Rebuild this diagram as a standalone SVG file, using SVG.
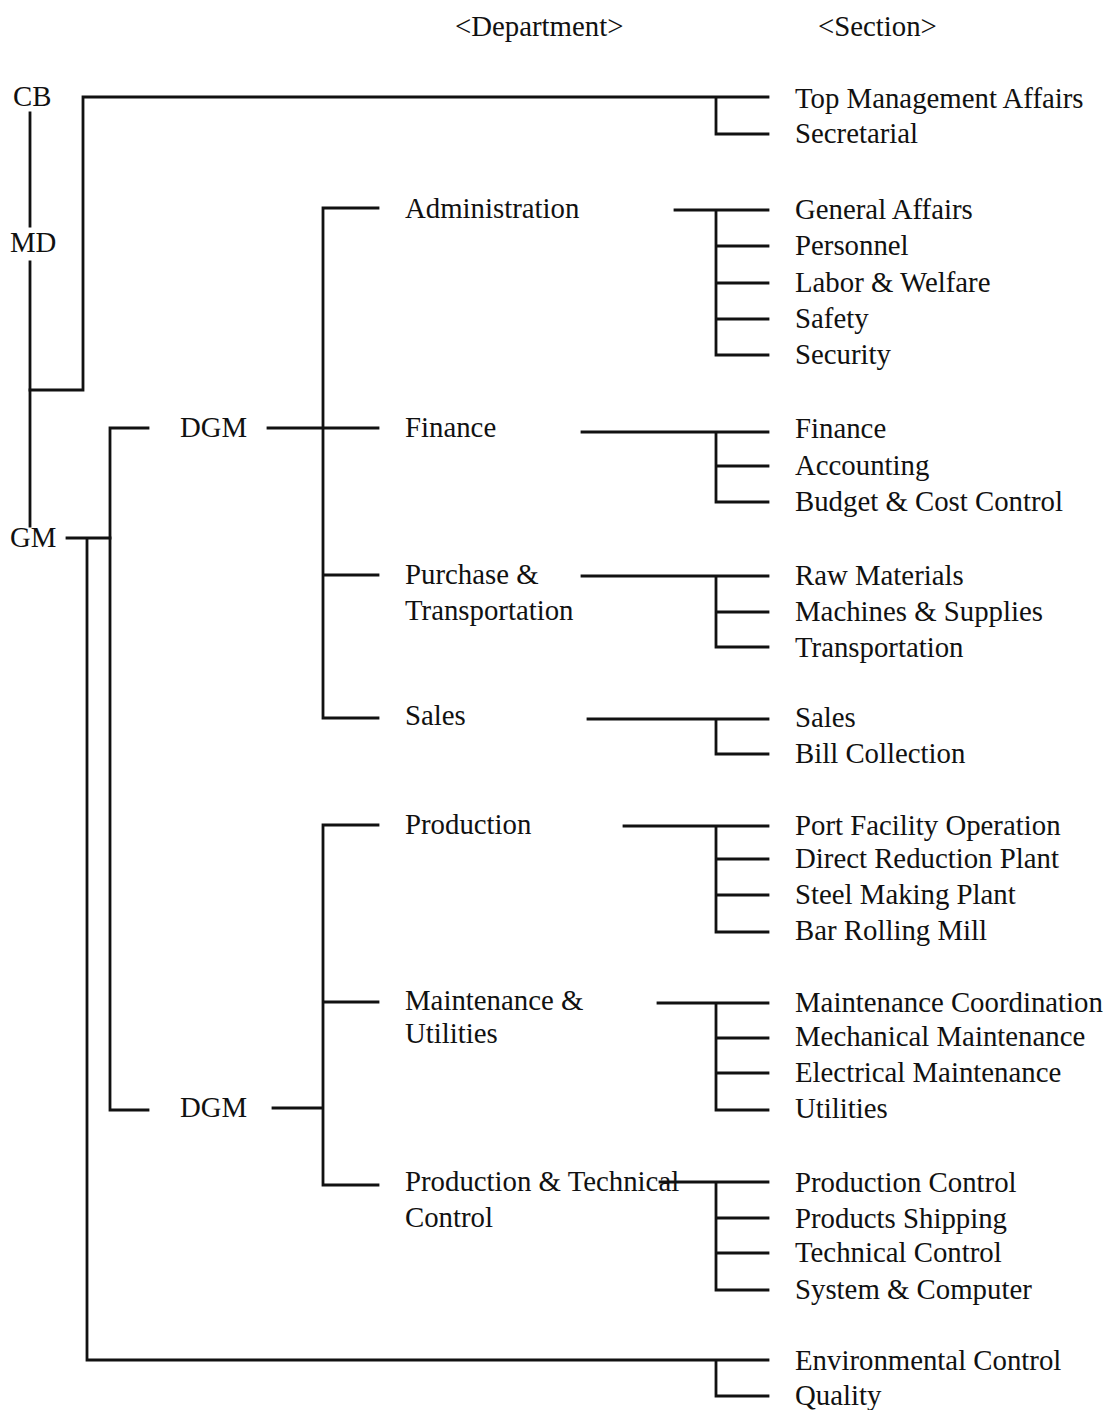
<svg xmlns="http://www.w3.org/2000/svg" width="1115" height="1410" viewBox="0 0 1115 1410">
<style>
.t{font-family:"Liberation Serif","Times New Roman",serif;font-size:28.8px;fill:#111;}
.ln{fill:none;stroke:#111;stroke-width:2.8;stroke-linecap:square;}
</style>
<rect width="1115" height="1410" fill="#fff"/>
<g id="headers">
<text class="t" x="455" y="36">&lt;Department&gt;</text>
<text class="t" x="818" y="36">&lt;Section&gt;</text>
</g>
<g id="connectors">
<path class="ln" d="M30,113 V226 M30,262 V526"/>
<path class="ln" d="M30,390 H83 V97 H768 M716,97 V134 H768"/>
<path class="ln" d="M67,538 H110 M87,538 V1360 H768 M716,1360 V1396 H768"/>
<path class="ln" d="M148,428 H110 V1110 H148"/>
<path class="ln" d="M268,428 H378 M323,208 V718 M323,208 H378 M323,575 H378 M323,718 H378"/>
<path class="ln" d="M273,1108 H323 M323,825 V1185 M323,825 H378 M323,1002 H378 M323,1185 H378"/>
<path class="ln" d="M675,210 H768 M716,210 V355 M716,246 H768 M716,283 H768 M716,319 H768 M716,355 H768"/>
<path class="ln" d="M582,432 H768 M716,432 V502 M716,466 H768 M716,502 H768"/>
<path class="ln" d="M582,576 H768 M716,576 V647 M716,612 H768 M716,647 H768"/>
<path class="ln" d="M588,719 H768 M716,719 V754 H768"/>
<path class="ln" d="M624,826 H768 M716,826 V932 M716,859 H768 M716,895 H768 M716,932 H768"/>
<path class="ln" d="M658,1003 H768 M716,1003 V1110 M716,1038 H768 M716,1073 H768 M716,1110 H768"/>
<path class="ln" d="M660,1182 H768 M716,1182 V1290 M716,1218 H768 M716,1253 H768 M716,1290 H768"/>
</g>
<g id="cb"><text class="t" x="13" y="106">CB</text></g>
<g id="md"><text class="t" x="10" y="252">MD</text></g>
<g id="gm"><text class="t" x="10" y="547">GM</text></g>
<g id="dgm1"><text class="t" x="180" y="437">DGM</text></g>
<g id="dgm2"><text class="t" x="180" y="1117">DGM</text></g>
<g id="dept-admin"><text class="t" x="405" y="218">Administration</text></g>
<g id="dept-finance"><text class="t" x="405" y="437">Finance</text></g>
<g id="dept-purchase"><text class="t" x="405" y="584">Purchase &amp;</text><text class="t" x="405" y="620">Transportation</text></g>
<g id="dept-sales"><text class="t" x="405" y="725">Sales</text></g>
<g id="dept-production"><text class="t" x="405" y="834">Production</text></g>
<g id="dept-maint"><text class="t" x="405" y="1010">Maintenance &amp;</text><text class="t" x="405" y="1043">Utilities</text></g>
<g id="dept-ptc"><text class="t" x="405" y="1191">Production &amp; Technical</text><text class="t" x="405" y="1227">Control</text></g>
<g id="sections">
<text class="t" x="795" y="108">Top Management Affairs</text>
<text class="t" x="795" y="143">Secretarial</text>
<text class="t" x="795" y="219">General Affairs</text>
<text class="t" x="795" y="255">Personnel</text>
<text class="t" x="795" y="292">Labor &amp; Welfare</text>
<text class="t" x="795" y="328">Safety</text>
<text class="t" x="795" y="364">Security</text>
<text class="t" x="795" y="438">Finance</text>
<text class="t" x="795" y="475">Accounting</text>
<text class="t" x="795" y="511">Budget &amp; Cost Control</text>
<text class="t" x="795" y="585">Raw Materials</text>
<text class="t" x="795" y="621">Machines &amp; Supplies</text>
<text class="t" x="795" y="657">Transportation</text>
<text class="t" x="795" y="727">Sales</text>
<text class="t" x="795" y="763">Bill Collection</text>
<text class="t" x="795" y="835">Port Facility Operation</text>
<text class="t" x="795" y="868">Direct Reduction Plant</text>
<text class="t" x="795" y="904">Steel Making Plant</text>
<text class="t" x="795" y="940">Bar Rolling Mill</text>
<text class="t" x="795" y="1012">Maintenance Coordination</text>
<text class="t" x="795" y="1046">Mechanical Maintenance</text>
<text class="t" x="795" y="1082">Electrical Maintenance</text>
<text class="t" x="795" y="1118">Utilities</text>
<text class="t" x="795" y="1192">Production Control</text>
<text class="t" x="795" y="1228">Products Shipping</text>
<text class="t" x="795" y="1262">Technical Control</text>
<text class="t" x="795" y="1299">System &amp; Computer</text>
<text class="t" x="795" y="1370">Environmental Control</text>
<text class="t" x="795" y="1405">Quality</text>
</g>
</svg>
